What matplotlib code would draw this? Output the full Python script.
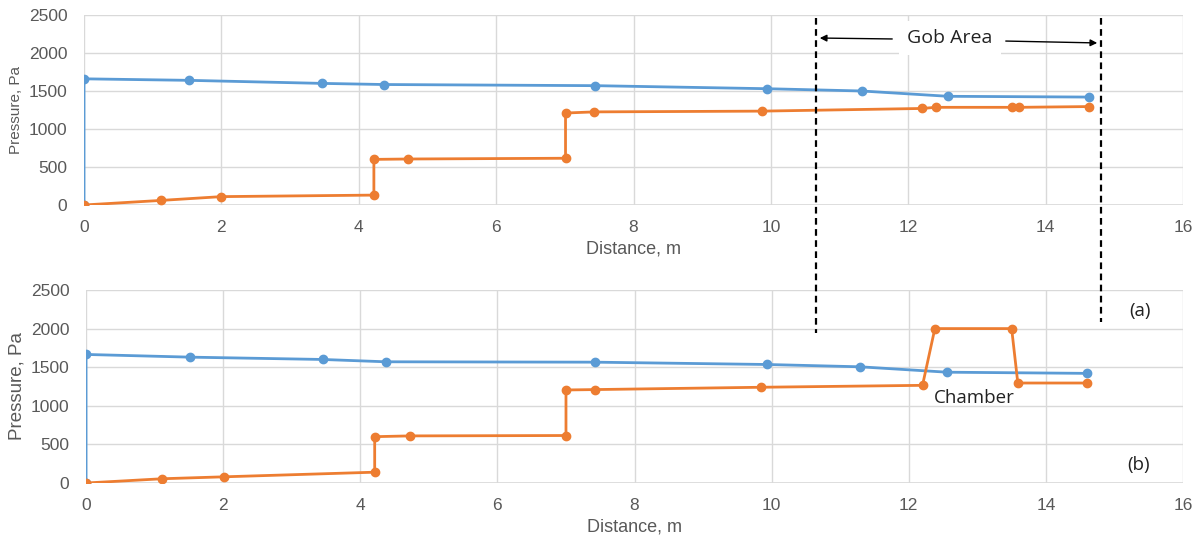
import numpy as np
import matplotlib.pyplot as plt
from matplotlib.lines import Line2D

plt.rcParams['font.family'] = ['Liberation Sans', 'DejaVu Sans']

# (a) gob area case
dist_a_blue = [0, 0, 1.53, 3.46, 4.37, 7.44, 9.94, 11.32, 12.58, 14.63]
press_a_blue = [0, 1660, 1640, 1600, 1585, 1570, 1530, 1500, 1430, 1420]
dist_a_orange = [0, 1.12, 2.0, 4.22, 4.22, 4.72, 7.01, 7.01, 7.43, 9.87, 12.2, 12.4, 13.51, 13.61, 14.63]
press_a_orange = [0, 60, 110, 130, 600, 605, 615, 1210, 1225, 1235, 1270, 1285, 1285, 1285, 1295]

# (b) chamber case
dist_b_blue = [0, 0, 1.52, 3.45, 4.37, 7.42, 9.93, 11.29, 12.56, 14.6]
press_b_blue = [0, 1665, 1630, 1600, 1570, 1565, 1535, 1505, 1435, 1420]
dist_b_orange = [0, 1.11, 2.01, 4.21, 4.21, 4.72, 7.0, 7.0, 7.42, 9.84, 12.2, 12.38, 13.5, 13.59, 14.6]
press_b_orange = [0, 55, 80, 140, 600, 610, 615, 1205, 1210, 1240, 1265, 2000, 2000, 1295, 1295]

blue = '#5b9bd5'
orange = '#ed7d31'
grid_c = '#d9d9d9'
txt_c = '#595959'

fig = plt.figure(figsize=(11.95, 5.39), dpi=100)
ax_a = fig.add_axes([0.0703, 0.6197, 0.9197, 0.3525])
ax_b = fig.add_axes([0.0720, 0.1039, 0.9180, 0.3581])


def style(ax, ylabel_size):
    ax.set_xlim(0, 16)
    ax.set_ylim(0, 2500)
    ax.set_xticks(np.arange(0, 17, 2))
    ax.set_yticks(np.arange(0, 2501, 500))
    ax.grid(True, color=grid_c, linewidth=1)
    ax.set_axisbelow(True)
    for s in ax.spines.values():
        s.set_visible(False)
    ax.axhline(0, color=grid_c, linewidth=1.2, zorder=1)
    ax.tick_params(length=0, labelsize=12.5, colors=txt_c)
    ax.tick_params(axis='x', pad=11)
    ax.tick_params(axis='y', pad=12)
    ax.set_xlabel('Distance, m', fontsize=13, color=txt_c, labelpad=4)
    ax.set_ylabel('Pressure, Pa', fontsize=ylabel_size, color=txt_c, labelpad=4)


ax_a.plot(dist_a_blue, press_a_blue, color=blue, lw=2, marker='o', ms=6, zorder=3)
ax_a.plot(dist_a_orange, press_a_orange, color=orange, lw=2, marker='o', ms=6, zorder=3)
style(ax_a, 11)

ax_b.plot(dist_b_blue, press_b_blue, color=blue, lw=2, marker='o', ms=6, zorder=3)
ax_b.plot(dist_b_orange, press_b_orange, color=orange, lw=2, marker='o', ms=6, zorder=3)
style(ax_b, 13.5)

# gob area boundaries (dashed, across both panels)
W, H = 1195.0, 539.0
for px, ybot in [(816, 333), (1101, 322)]:
    fig.add_artist(Line2D([px / W, px / W], [1 - 18 / H, 1 - ybot / H], color='black',
                          lw=1.6, ls=(0, (3, 2)), transform=fig.transFigure))

fig.text(950 / W, 1 - 38 / H, 'Gob Area', fontsize=14, family=['Open Sans', 'DejaVu Sans'],
         ha='center', va='center', color='#222222',
         bbox=dict(facecolor='white', edgecolor='none', pad=6))
fig.add_artist(plt.Annotation('', xy=(817 / W, 1 - 38 / H), xytext=(895 / W, 1 - 39 / H),
                              xycoords='figure fraction', textcoords='figure fraction',
                              arrowprops=dict(arrowstyle='-|>', color='black', lw=1,
                                              mutation_scale=10)))
fig.add_artist(plt.Annotation('', xy=(1100 / W, 1 - 43 / H), xytext=(1003 / W, 1 - 41 / H),
                              xycoords='figure fraction', textcoords='figure fraction',
                              arrowprops=dict(arrowstyle='-|>', color='black', lw=1,
                                              mutation_scale=10)))

fig.text(1140 / W, 1 - 311 / H, '(a)', fontsize=13.5, family=['Open Sans', 'DejaVu Sans'],
         ha='center', va='center', color='#222222')
fig.text(1139 / W, 1 - 465 / H, '(b)', fontsize=13.5, family=['Open Sans', 'DejaVu Sans'],
         ha='center', va='center', color='#222222')
fig.text(974 / W, 1 - 398 / H, 'Chamber', fontsize=13.5, family=['Open Sans', 'DejaVu Sans'],
         ha='center', va='center', color='#222222')

fig.savefig('out.png', dpi=100)
